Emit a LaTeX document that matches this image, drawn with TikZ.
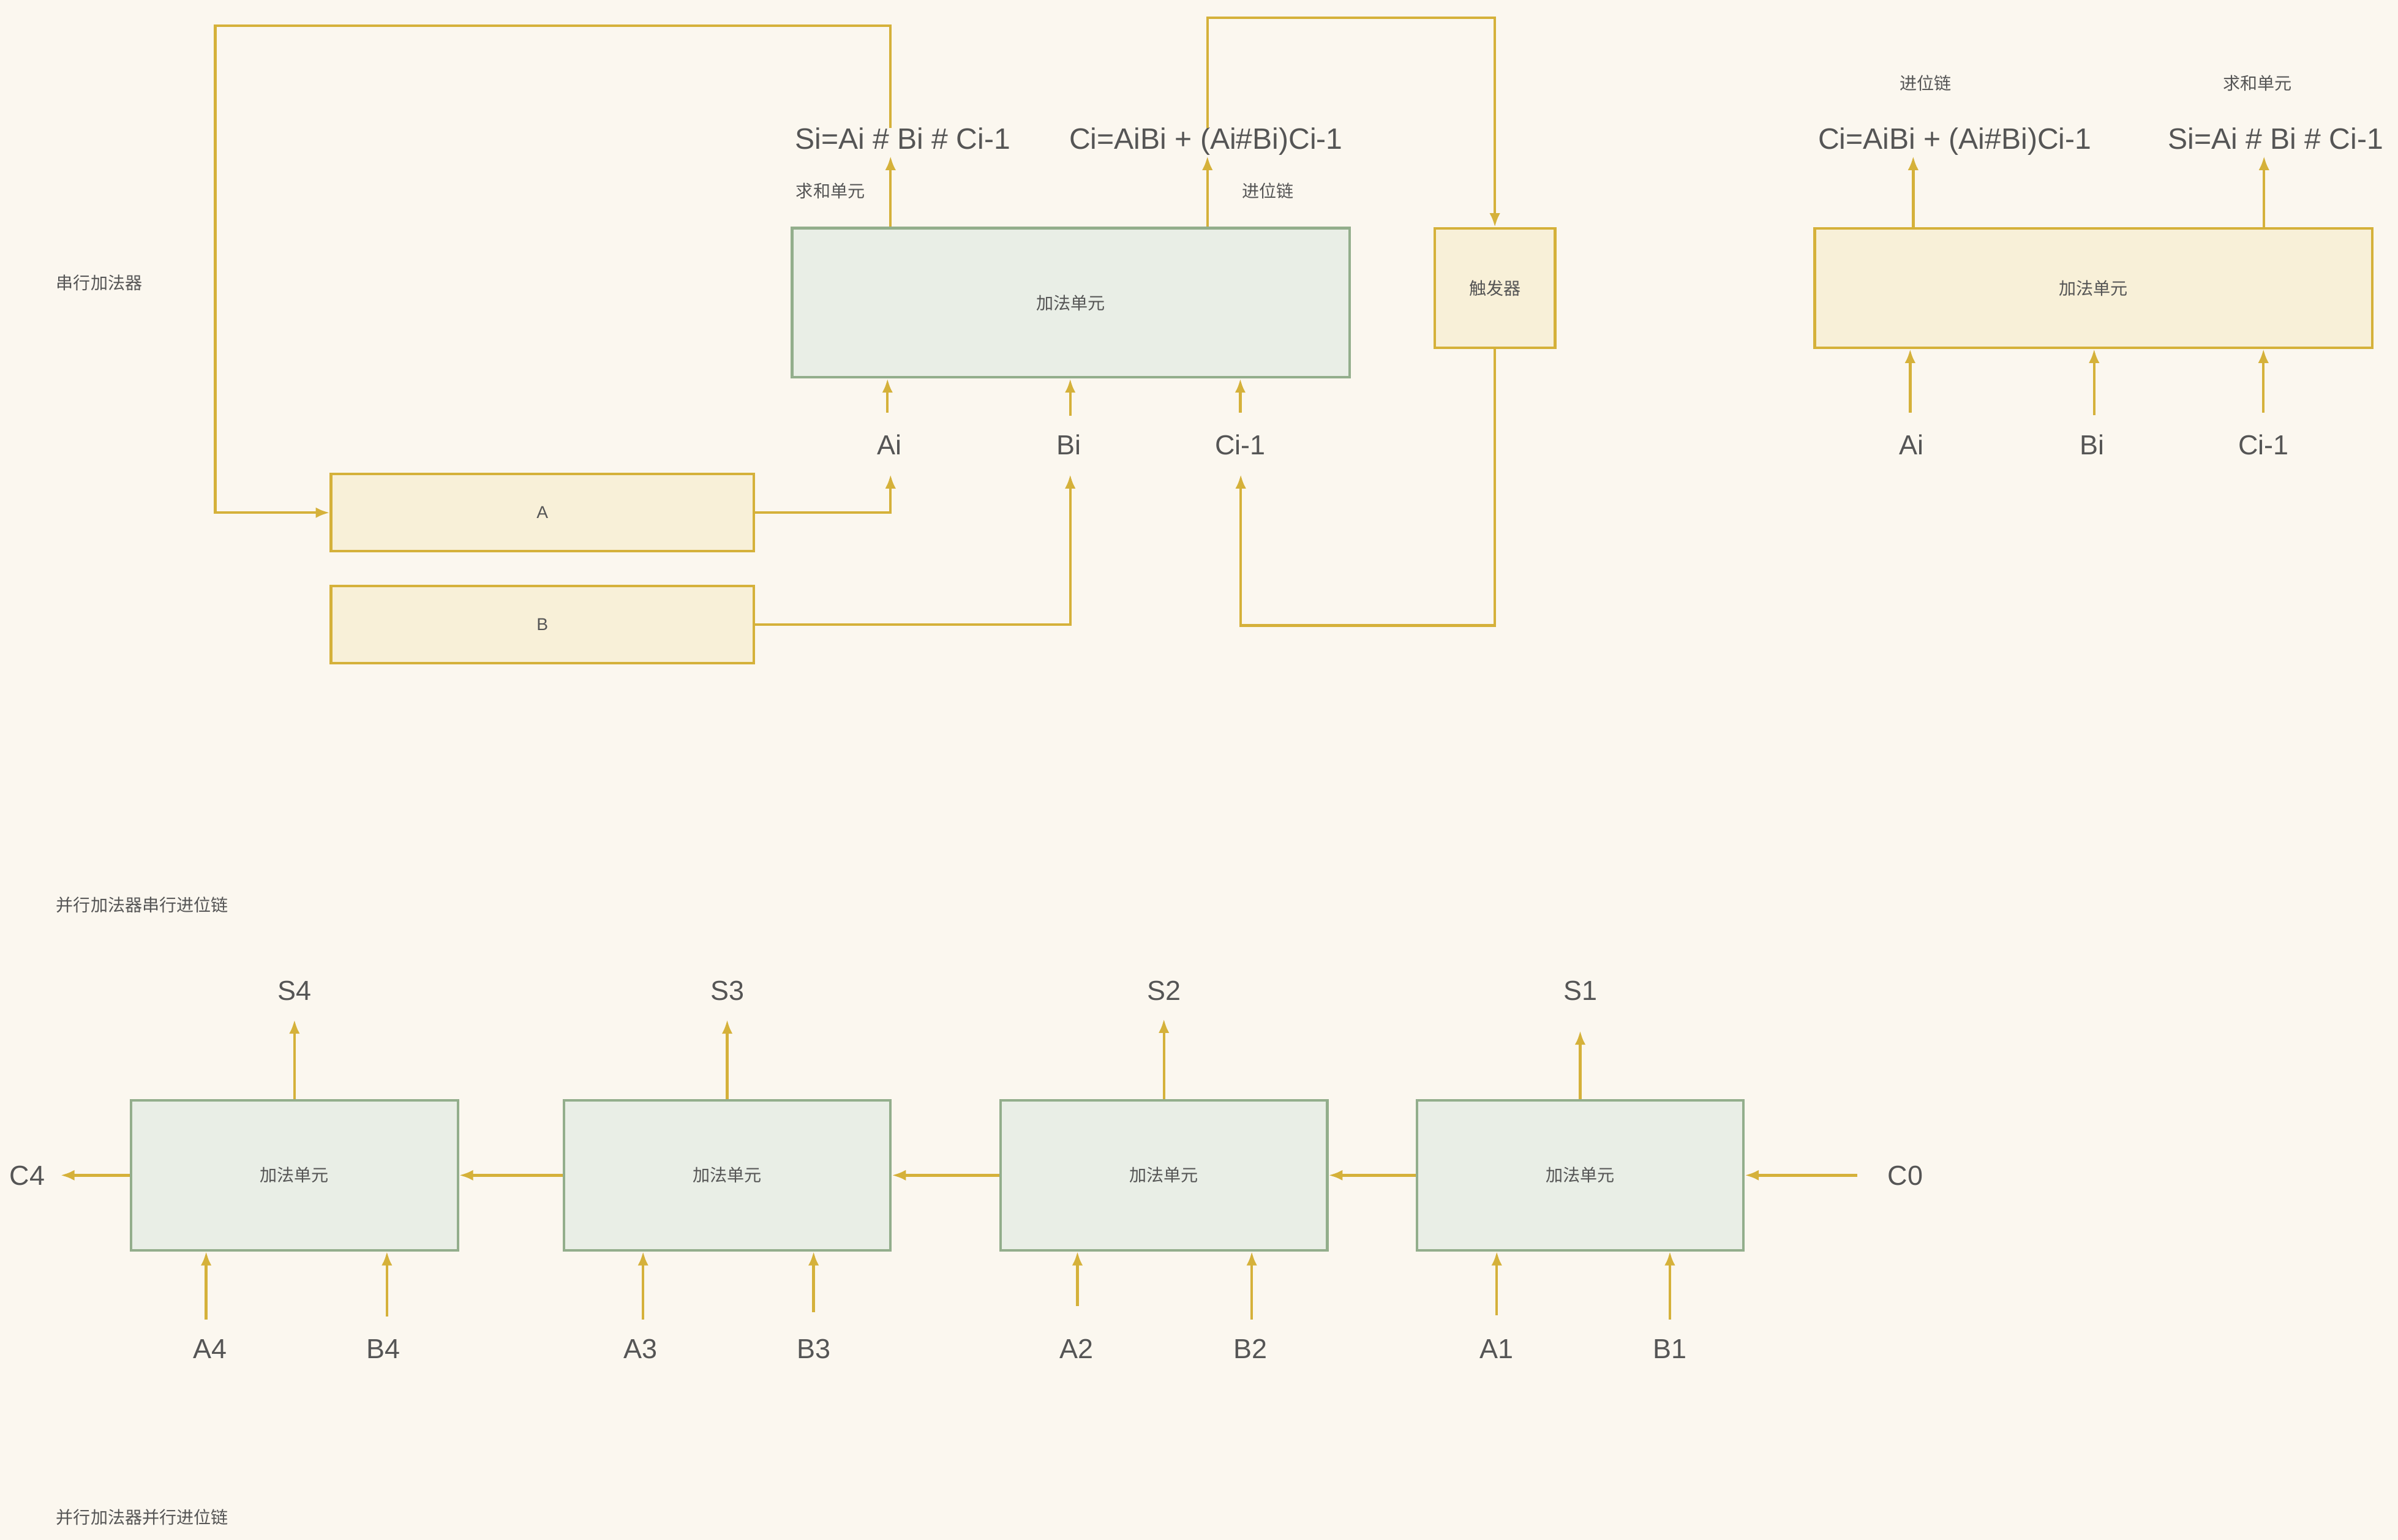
\documentclass[tikz,border=0pt]{standalone}
\usepackage{fontspec}
\setmainfont{Liberation Sans}
\newfontfamily\cjk{Noto Sans CJK SC}
\usetikzlibrary{arrows.meta}
\definecolor{paper}{HTML}{FBF7EF}
\definecolor{gold}{HTML}{D5B13A}
\definecolor{cream}{HTML}{F8F0D8}
\definecolor{sage}{HTML}{93AE8C}
\definecolor{sagefill}{HTML}{E9EEE6}
\definecolor{ink}{HTML}{555555}
\tikzset{unit/.style = {draw=sage,fill=sagefill,line width=1.2pt,inner sep=0pt,text=ink,font=\fontsize{8}{10}\selectfont},
         reg/.style = {draw=gold,fill=cream,line width=1.2pt,inner sep=0pt,text=ink,font=\fontsize{8}{10}\selectfont},
         sig/.style = {inner sep=1pt,text height=9.2pt,text depth=2.6pt,text=ink,font=\fontsize{12.8}{15}\selectfont},
         eqn/.style = {sig,inner sep=0.5pt,font=\fontsize{13.7}{16}\selectfont},
         note/.style = {inner sep=0pt,text=ink,font=\cjk\fontsize{8}{10}\selectfont},
         wire/.style = {draw=gold,line width=1.25pt},
         arr/.style = {wire,-{Latex[length=6.5pt,width=5pt]}}}

\begin{document}
\begin{tikzpicture}[x=0.025cm,y=-0.025cm]
    \fill[paper] (0,0) rectangle (1568,1007);
    \useasboundingbox (0,0) rectangle (1568,1007);
    % serial adder
    \node[note,anchor=west] (serial) at (36.5,185) {串行加法器};
    \node[unit,minimum width=9.11cm,minimum height=2.44cm] (add) at (700.2,197.95) {\cjk 加法单元};
    \node[reg,minimum width=1.97cm,minimum height=1.95cm] (ff) at (977.45,188.4) {\cjk 触发器};
    \node[reg,minimum width=6.91cm,minimum height=1.26cm] (ra) at (354.65,335.25) {A};
    \node[reg,minimum width=6.91cm,minimum height=1.26cm] (rb) at (354.65,408.3) {B};
    \node[eqn] (si) at (590.3,92.8) {Si=Ai \# Bi \# Ci-1};
    \node[eqn] (ci) at (788.6,92.8) {Ci=AiBi + (Ai\#Bi)Ci-1};
    \node[note] (sumlbl) at (543,125) {求和单元};
    \node[note] (carlbl) at (829,125) {进位链};
    \node[sig] (ai) at (581.7,292.8) {Ai};
    \node[sig] (bi) at (699,292.8) {Bi};
    \node[sig] (cin) at (811,292.8) {Ci-1};
    \coordinate (sx) at (582.3,0);
    \coordinate (cx) at (789.5,0);
    \coordinate (sloop) at (140.8,16.8);
    \coordinate (cloop) at (0,11.5);
    \coordinate (fret) at (0,409);
    \coordinate (aifb) at (582.3,310.3);
    \coordinate (bifb) at (699.8,310.3);
    \coordinate (cfb) at (811.3,310.3);
    \draw[arr] (add.north -| sx) -- (si.south -| sx);
    \draw[arr] (add.north -| cx) -- (ci.south -| cx);
    \draw[arr] (si.north -| sx) -- (sx |- sloop) -- (sloop) |- (ra.west);
    \draw[arr] (ci.north -| cx) -- (cx |- cloop) -| (ff.north);
    \draw[arr] (ff.south) -- (ff.south |- fret) -| (cfb);
    \draw[arr] (ra.east) -| (aifb);
    \draw[arr] (rb.east) -| (bifb);
    \foreach \nm/\x/\y in {ai/580.3/269.8, bi/699.8/272, cin/811/269.8} {
        \coordinate (\nm-in) at (\x,\y);
        \draw[arr] (\nm-in) -- (\nm-in |- add.south);
    }
    % single adder unit
    \node[reg,minimum width=9.11cm,minimum height=1.95cm] (add2) at (1368.85,188.35) {\cjk 加法单元};
    \node[eqn] (ci2) at (1278.2,92.8) {Ci=AiBi + (Ai\#Bi)Ci-1};
    \node[eqn] (si2) at (1488,92.8) {Si=Ai \# Bi \# Ci-1};
    \node[note] (carlbl2) at (1259,54.4) {进位链};
    \node[note] (sumlbl2) at (1476,54.4) {求和单元};
    \node[sig] (ai2) at (1250,292.8) {Ai};
    \node[sig] (bi2) at (1368,292.8) {Bi};
    \node[sig] (cin2) at (1480,292.8) {Ci-1};
    \coordinate (cx2) at (1251,0);
    \coordinate (sx2) at (1480.4,0);
    \draw[arr] (add2.north -| cx2) -- (ci2.south -| cx2);
    \draw[arr] (add2.north -| sx2) -- (si2.south -| sx2);
    \foreach \nm/\x/\y in {ai2/1249/269.8, bi2/1369.3/271.6, cin2/1480/269.8} {
        \coordinate (\nm-in) at (\x,\y);
        \draw[arr] (\nm-in) -- (\nm-in |- add2.south);
    }
    % parallel adders
    \node[note,anchor=west] (serialchain) at (36.5,591.7) {并行加法器串行进位链};
    \node[note,anchor=west] (parchain) at (36.5,992.2) {并行加法器并行进位链};
    \foreach \k/\x/\ty/\ax/\at/\alx/\bx/\bt/\blx in {4/192.55/666.8/134.8/863/137.4/253/861/250.8,
                                                     3/475.5/666.8/420.5/863/419/532/858/532,
                                                     2/761.05/666.3/704.5/854/704/818.5/863/817.6,
                                                     1/1033.25/674/978.7/860/978.5/1091.9/863/1091.8} {
        \node[unit,minimum width=5.34cm,minimum height=2.45cm] (u\k) at (\x,768.5) {\cjk 加法单元};
        \node[sig] (s\k) at (\x,649.3) {S\k};
        \node[sig] (a\k) at (\alx,883.5) {A\k};
        \node[sig] (b\k) at (\blx,883.5) {B\k};
        \coordinate (st\k) at (\x,\ty);
        \coordinate (at\k) at (\ax,\at);
        \coordinate (bt\k) at (\bx,\bt);
        \draw[arr] (u\k.north) -- (st\k);
        \draw[arr] (at\k) -- (at\k |- u\k.south);
        \draw[arr] (bt\k) -- (bt\k |- u\k.south);
    }
    \node[sig] (c0) at (1245.9,770.5) {C0};
    \node[sig] (c4) at (17.9,770.5) {C4};
    \coordinate (c0in) at (1214.5,768.5);
    \coordinate (c4out) at (39.6,768.5);
    \draw[arr] (c0in) -- (u1.east);
    \foreach \k/\j in {1/2,2/3,3/4} {
        \draw[arr] (u\k.west) -- (u\j.east);
    }
    \draw[arr] (u4.west) -- (c4out);
\end{tikzpicture}
\end{document}
